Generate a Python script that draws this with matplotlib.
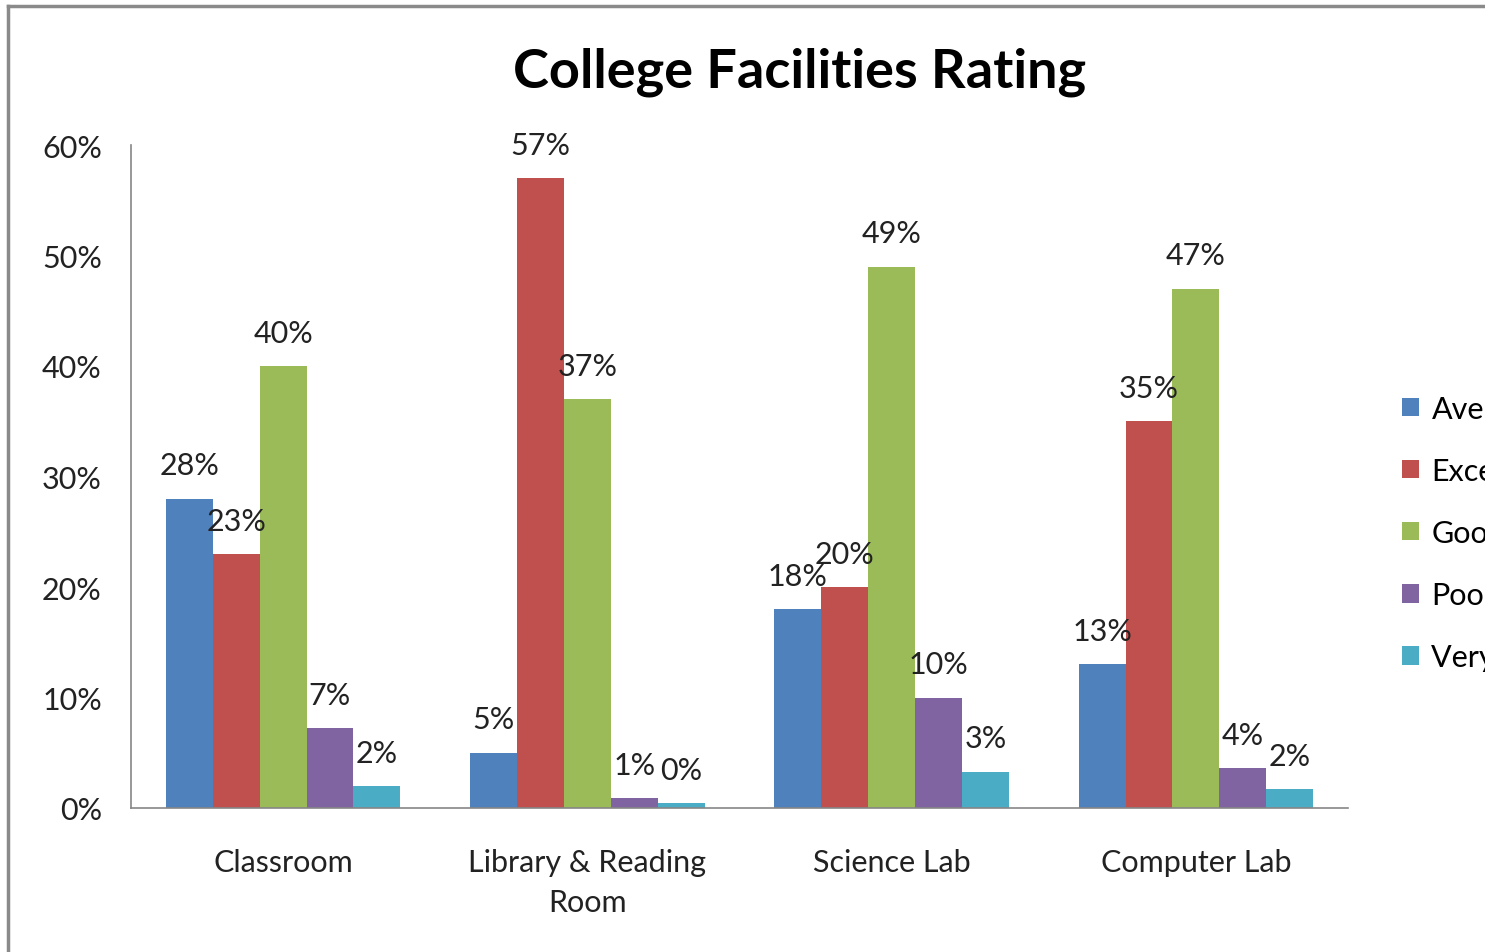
import matplotlib.pyplot as plt
import numpy as np
from matplotlib.lines import Line2D

plt.rcParams['font.family'] = ['Lato', 'DejaVu Sans']

categories = ["Classroom", "Library & Reading\nRoom", "Science Lab", "Computer Lab"]
series = ["Average", "Excellent", "Good", "Poor", "Very Poor"]
average = [28, 5, 18, 13]
excellent = [23, 57, 20, 35]
good = [40, 37, 49, 47]
poor = [7.2, 0.9, 10, 3.6]
very_poor = [2.0, 0.45, 3.3, 1.7]
colors = ["#4F81BD", "#C0504D", "#9BBB59", "#8064A2", "#4BACC6"]

fig = plt.figure(figsize=(14.85, 9.53), dpi=100)
ax = fig.add_axes([131 / 1485, 1 - 809 / 953, 1217 / 1485, 663 / 953])

x = np.arange(len(categories)) + 0.5
w = 0.154
for i, (name, vals) in enumerate(zip(series, [average, excellent, good, poor, very_poor])):
    pos = x + (i - 2) * w
    ax.bar(pos, vals, width=w, color=colors[i], label=name)
    for p, v in zip(pos, vals):
        ax.annotate(f"{v:.0f}%", (p, v), xytext=(0, 24), textcoords="offset points",
                    ha="center", va="center", fontsize=22, color="#222222")

ax.set_xlim(0, 4)
ax.set_ylim(0, 60)
ax.set_yticks(range(0, 61, 10))
ax.set_yticklabels([f"{t}%" for t in range(0, 61, 10)])
ax.set_xticks(x)
ax.set_xticklabels(categories, linespacing=1.5)
ax.tick_params(axis="y", length=0, pad=21, labelsize=22, labelcolor="#222222")
ax.tick_params(axis="x", length=0, pad=29, labelsize=22, labelcolor="#222222")
for s in ["top", "right"]:
    ax.spines[s].set_visible(False)
for s in ["left", "bottom"]:
    ax.spines[s].set_color("#868686")
    ax.spines[s].set_linewidth(1.2)

fig.text(800 / 1485, 1 - 72 / 953, "College Facilities Rating", ha="center", va="center",
         fontsize=39, fontweight="bold")

fig.legend(loc="center left", bbox_to_anchor=(1378 / 1485, 1 - 534 / 953), frameon=False,
           fontsize=22, handlelength=0.55, handleheight=0.55, handletextpad=0.4,
           labelspacing=1.12, borderpad=0.3)

# outer chart frame (partly cut off at right and bottom)
fig.add_artist(Line2D([8 / 1485, 8 / 1485], [0, 1 - 7 / 953], color="#8a8a8a", lw=2.5))
fig.add_artist(Line2D([8 / 1485, 1], [1 - 7 / 953, 1 - 7 / 953], color="#8a8a8a", lw=2.5))

fig.savefig("out.png", dpi=100)
